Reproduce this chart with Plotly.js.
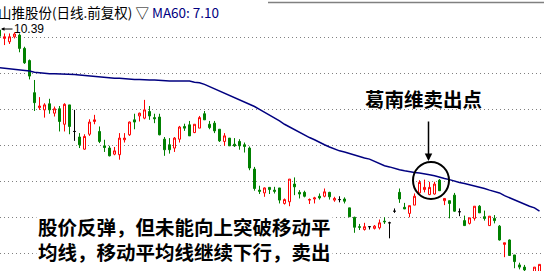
<!DOCTYPE html>
<html><head><meta charset="utf-8">
<script src="https://cdn.plot.ly/plotly-3.0.1.min.js"></script>
<style>html,body{margin:0;padding:0;background:#fff;overflow:hidden}#chart{width:544px;height:271px}</style>
</head><body><div id="chart"></div>
<script>
// Daily K-line data (前复权)
const openP = [10.37,10.22,10.16,10.25,10.28,10.04,9.82,9.24,8.97,8.93,9.04,8.87,8.95,8.67,9.02,8.54,8.44,8.22,8.49,8.72,
  8.54,8.28,8.24,8.13,8.12,8.39,8.48,8.75,8.82,8.78,8.90,8.79,8.80,8.40,8.30,8.24,8.40,8.63,8.66,8.52,
  8.60,8.86,8.67,8.69,8.58,8.36,8.42,8.31,8.36,8.30,8.24,7.86,7.48,7.43,7.53,7.48,7.52,7.24,7.27,7.59,
  7.44,7.44,7.30,7.32,7.37,7.37,7.44,7.30,7.31,7.32,7.16,6.99,6.82,6.77,6.82,6.79,6.80,6.92,6.89,7.10,
  7.44,7.17,7.06,7.21,7.43,7.49,7.40,7.41,7.66,7.29,7.29,7.39,7.09,6.93,6.88,6.97,7.19,7.00,6.84,6.97,
  6.83,6.50,6.58,6.31,6.13,6.09,5.97,6.01,5.99];
const highP = [10.39,10.31,10.31,10.33,10.31,10.07,9.84,9.47,9.16,9.05,9.13,8.99,9.00,9.05,9.02,8.93,8.51,8.49,8.76,8.84,
  8.63,8.39,8.28,8.26,8.51,8.51,8.72,8.86,8.88,9.11,9.00,8.86,8.86,8.44,8.42,8.44,8.64,8.68,8.73,8.67,
  8.82,8.91,8.73,8.73,8.58,8.51,8.42,8.42,8.40,8.34,8.27,7.90,7.56,7.53,7.53,7.54,7.52,7.33,7.68,7.71,
  7.48,7.47,7.33,7.36,7.42,7.51,7.45,7.36,7.37,7.35,7.16,7.00,6.87,6.89,6.83,6.85,6.95,6.99,6.91,7.15,
  7.51,7.25,7.20,7.42,7.66,7.67,7.63,7.63,7.68,7.33,7.29,7.43,7.15,7.02,6.98,7.19,7.21,7.11,7.01,7.03,
  6.85,6.53,6.59,6.31,6.17,6.13,6.00,6.09,6.14];
const lowP = [10.23,10.10,10.12,10.22,9.97,9.76,9.48,8.91,8.93,8.79,8.86,8.81,8.54,8.54,8.49,8.37,8.24,8.21,8.46,8.67,
  8.33,8.17,8.09,8.11,8.03,8.34,8.46,8.58,8.72,8.76,8.75,8.69,8.47,8.10,8.14,8.17,8.34,8.55,8.46,8.51,
  8.60,8.75,8.58,8.51,8.35,8.28,8.28,8.26,8.21,8.16,7.84,7.47,7.41,7.36,7.41,7.42,7.24,7.22,7.19,7.39,
  7.33,7.35,7.23,7.24,7.31,7.35,7.31,7.27,7.26,7.24,7.00,6.71,6.76,6.75,6.77,6.77,6.77,6.87,6.61,7.07,
  7.25,7.14,6.99,7.21,7.42,7.44,7.39,7.40,7.47,7.21,6.97,7.09,7.01,6.84,6.86,6.93,7.07,6.93,6.84,6.88,
  6.57,6.27,6.30,6.07,6.05,6.02,5.79,6.00,5.97];
const closeP = [10.26,10.25,10.25,10.30,10.04,9.78,9.54,9.06,9.00,9.02,8.93,8.95,8.72,9.03,8.63,8.54,8.30,8.45,8.71,8.75,
  8.36,8.25,8.10,8.19,8.42,8.42,8.71,8.71,8.87,8.93,8.82,8.77,8.48,8.21,8.21,8.42,8.62,8.60,8.46,8.67,
  8.79,8.75,8.61,8.55,8.37,8.46,8.28,8.28,8.28,8.27,7.88,7.51,7.46,7.52,7.49,7.46,7.30,7.31,7.68,7.54,
  7.41,7.37,7.31,7.34,7.34,7.45,7.36,7.33,7.31,7.28,7.00,6.81,6.81,6.82,6.82,6.83,6.89,6.91,6.89,7.10,
  7.32,7.14,7.20,7.37,7.62,7.53,7.53,7.59,7.47,7.33,7.24,7.10,7.09,6.84,6.98,7.19,7.07,6.97,7.01,6.93,
  6.58,6.53,6.30,6.19,6.09,6.04,5.86,6.09,6.14];
const ma60 = [9.69,9.68,9.67,9.67,9.66,9.64,9.63,9.61,9.60,9.58,9.58,9.58,9.58,9.57,9.57,9.57,9.56,9.55,9.54,9.53,
  9.52,9.52,9.51,9.50,9.50,9.49,9.49,9.48,9.48,9.47,9.47,9.47,9.46,9.46,9.45,9.45,9.45,9.45,9.45,9.43,
  9.42,9.39,9.35,9.31,9.27,9.24,9.20,9.16,9.12,9.08,9.04,8.99,8.94,8.89,8.84,8.78,8.73,8.67,8.62,8.57,
  8.53,8.48,8.43,8.39,8.34,8.30,8.26,8.22,8.19,8.17,8.14,8.11,8.08,8.06,8.04,8.00,7.95,7.92,7.90,7.87,
  7.85,7.83,7.81,7.80,7.79,7.78,7.76,7.74,7.71,7.69,7.67,7.64,7.62,7.60,7.58,7.56,7.53,7.51,7.48,7.45,
  7.43,7.38,7.34,7.30,7.26,7.23,7.19,7.16,7.10];
const gridLevels = [10.23, 9.58, 8.93, 8.28, 7.63, 6.98, 6.33];
const highLabel = 10.39;
const titleText = '山推股份(日线.前复权) ▽ ';
const maLabel = 'MA60: 7.10';
const signalText = '葛南维卖出点';
const noteText = '股价反弹，但未能向上突破移动平<br>均线，移动平均线继续下行，卖出';

const days = openP.map((_, i) => i);
const isDoji = days.map(i => openP[i] === closeP[i]);
function pick(arr, want) { return days.filter(i => isDoji[i] === want).map(i => arr[i]); }

const W = 544, H = 271;
const px = v => v / W, py = v => 1 - v / H;

const candles = {
  type: 'candlestick',
  x: pick(days, false), open: pick(openP, false), high: pick(highP, false),
  low: pick(lowP, false), close: pick(closeP, false),
  increasing: {line: {color: '#ff0000', width: 1}, fillcolor: '#ffffff'},
  decreasing: {line: {color: '#008000', width: 1}, fillcolor: '#008000'},
  whiskerwidth: 0, hoverinfo: 'skip', showlegend: false
};
const dojis = {
  type: 'candlestick',
  x: pick(days, true), open: pick(openP, true), high: pick(highP, true),
  low: pick(lowP, true), close: pick(closeP, true),
  increasing: {line: {color: '#000000', width: 1}, fillcolor: '#000000'},
  decreasing: {line: {color: '#000000', width: 1}, fillcolor: '#000000'},
  whiskerwidth: 0, hoverinfo: 'skip', showlegend: false
};
const ma = {
  type: 'scatter', mode: 'lines', x: days, y: ma60,
  line: {color: '#000080', width: 1.5}, hoverinfo: 'skip', showlegend: false
};

const cjk = '"Noto Sans CJK SC", sans-serif';
const layout = {
  width: W, height: H,
  margin: {l: 0, r: 0, t: 0, b: 0, pad: 0},
  paper_bgcolor: '#ffffff', plot_bgcolor: '#ffffff',
  showlegend: false,
  boxgap: 0.6, boxgroupgap: 0,
  xaxis: {range: [0.1, 108.9], showgrid: false, zeroline: false, showticklabels: false,
    showline: false, ticks: '', rangeslider: {visible: false}, fixedrange: true},
  yaxis: {range: [6.020, 10.914], tickmode: 'array', tickvals: gridLevels, showticklabels: false,
    showgrid: true, gridcolor: '#808080', griddash: '1px,3px', gridwidth: 1,
    zeroline: false, showline: false, ticks: '', fixedrange: true},
  shapes: [
    {type: 'line', xref: 'paper', yref: 'paper', x0: px(268), x1: 1, y0: py(2.5), y1: py(2.5),
      line: {color: '#808080', width: 1.5}},
    {type: 'circle', xref: 'paper', yref: 'paper', x0: px(413), x1: px(449), y0: py(199), y1: py(162),
      line: {color: '#000000', width: 2}}
  ],
  annotations: [
    {xref: 'paper', yref: 'paper', x: px(-4), y: py(12), xanchor: 'left', yanchor: 'middle',
      showarrow: false, text: titleText + '<span style="color:#000080">' + maLabel + '</span>',
      font: {family: cjk, size: 13.5, color: '#000000'}},
    {xref: 'paper', yref: 'y', x: px(1), y: highLabel, ax: 28, ay: 0, showarrow: true,
      arrowhead: 2, arrowsize: 0.7, arrowwidth: 1, arrowcolor: '#000000',
      text: String(highLabel), font: {family: 'Liberation Sans, Arial, sans-serif', size: 12, color: '#000000'}},
    {xref: 'paper', yref: 'paper', x: px(423.5), y: py(98), xanchor: 'center', yanchor: 'middle',
      showarrow: false, text: signalText, font: {family: cjk, size: 19.5, color: '#000000', weight: 'bold'}},
    {xref: 'paper', yref: 'paper', x: px(428.5), y: py(161), ax: 0, ay: -41, showarrow: true,
      arrowhead: 2, arrowsize: 1, arrowwidth: 1.5, arrowcolor: '#000000', text: ''},
    {xref: 'paper', yref: 'paper', x: px(36), y: py(239), xanchor: 'left', yanchor: 'middle',
      showarrow: false, align: 'left', bgcolor: '#ffffff', text: noteText,
      font: {family: cjk, size: 19.5, color: '#000000', weight: 'bold'}}
  ]
};

Plotly.newPlot('chart', [candles, dojis, ma], layout, {staticPlot: true, displayModeBar: false});
</script>
</body></html>
